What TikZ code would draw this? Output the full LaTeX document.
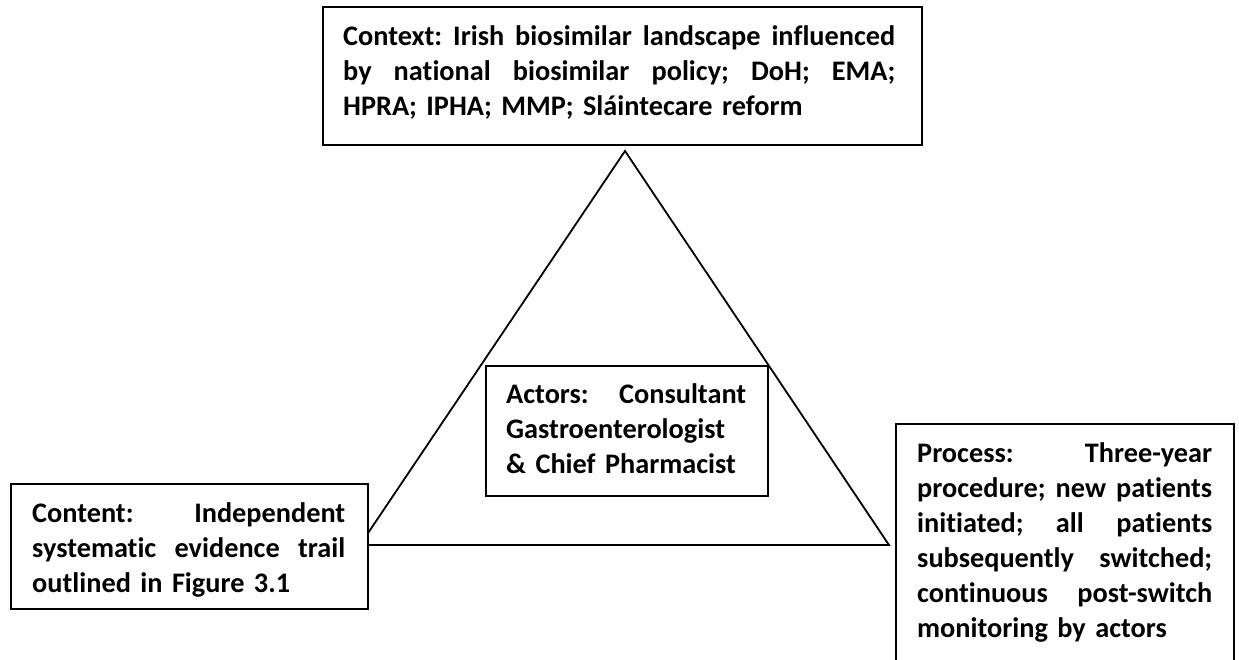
\documentclass[tikz,border=0pt]{standalone}
\usepackage{fontspec}
\setmainfont{Carlito}[Ligatures={NoCommon}]
\newcommand{\jline}[2]{\leavevmode\hbox to #1{#2}}
\newcommand{\gap}{\hskip 0pt plus 1fill\relax}
\begin{document}
\begin{tikzpicture}[x=1pt,y=-1pt,
  box/.style={draw, line width=1.8pt, fill=white, rectangle, inner sep=0pt, anchor=north west},
  txt/.style={anchor=base west, inner sep=0pt, align=left, font=\bfseries\fontsize{28.3}{35}\selectfont\frenchspacing}]
\useasboundingbox[fill=white] (0,0) rectangle (1239,659);
% triangle
\coordinate (apex) at (625,151);
\coordinate (bl) at (360,545);
\coordinate (br) at (889,545);
\draw[line width=1.8pt, line join=miter] (apex) -- (bl) -- (br) -- cycle;
% boxes
\node[box, minimum width=599pt, minimum height=138pt] (ctx) at (322,6) {};
\node[box, minimum width=357pt, minimum height=125pt] (cnt) at (10,483) {};
\node[box, minimum width=338pt, minimum height=260pt] (prc) at (895,423) {};
\node[box, minimum width=282pt, minimum height=130pt] (act) at (485,365) {};
% texts
\node[txt, text width=552pt] (ctxt) at (343,45) {\jline{552pt}{Context:\gap Irish\gap biosimilar\gap landscape\gap influenced}\\
\jline{552pt}{by\gap national\gap biosimilar\gap policy;\gap DoH;\gap EMA;}\\
HPRA; IPHA; MMP; Sláintecare reform};
\node[txt, text width=313pt] (cntt) at (32,522) {\jline{313pt}{Content:\gap Independent}\\
\jline{313pt}{systematic\gap evidence\gap trail}\\
outlined in Figure 3.1};
\node[txt, text width=295pt] (prct) at (917,462) {\jline{295pt}{Process:\gap Three-year}\\
\jline{295pt}{procedure;\gap new\gap patients}\\
\jline{295pt}{initiated;\gap all\gap patients}\\
\jline{295pt}{subsequently\gap switched;}\\
\jline{295pt}{continuous\gap post-switch}\\
monitoring by actors};
\node[txt, text width=240pt] (actt) at (506,403) {\jline{240pt}{Actors:\gap Consultant}\\
Gastroenterologist\\
\& Chief Pharmacist};
\end{tikzpicture}
\end{document}
